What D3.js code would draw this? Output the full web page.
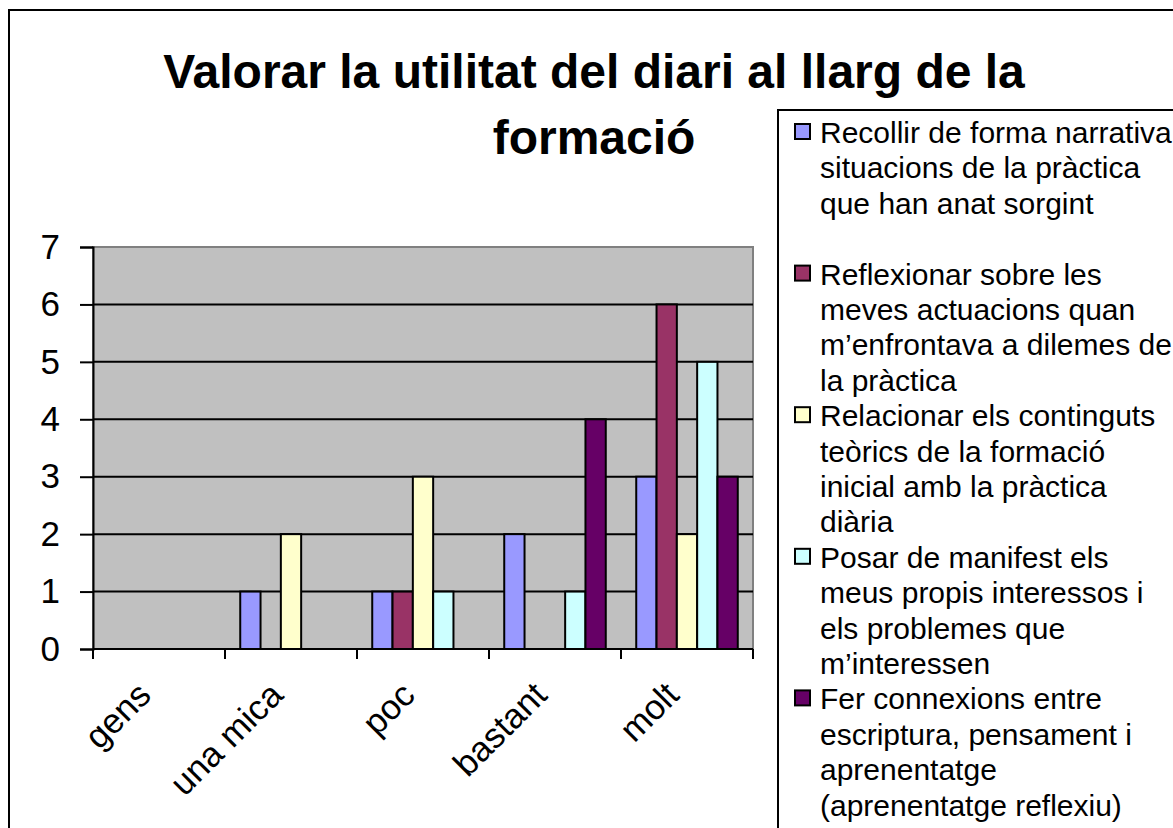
<!DOCTYPE html>
<html>
<head>
<meta charset="utf-8">
<script src="https://cdn.jsdelivr.net/npm/d3@7/dist/d3.min.js"></script>
<style>
  html, body { margin: 0; padding: 0; background: #fff; }
  svg { display: block; font-family: Arial, "Liberation Sans", sans-serif; }
</style>
</head>
<body>
<div id="chart"></div>
<script>
// chart data
var titleLines = ["Valorar la utilitat del diari al llarg de la", "formació"];
var categories = ["gens", "una mica", "poc", "bastant", "molt"];
var seriesNames = [
  ["Recollir de forma narrativa", "situacions de la pràctica", "que han anat sorgint"],
  ["Reflexionar sobre les", "meves actuacions quan", "m’enfrontava a dilemes de", "la pràctica"],
  ["Relacionar els continguts", "teòrics de la formació", "inicial amb la pràctica", "diària"],
  ["Posar de manifest els", "meus propis interessos i", "els problemes que", "m’interessen"],
  ["Fer connexions entre", "escriptura, pensament i", "aprenentatge", "(aprenentatge reflexiu)"]
];
var recollir    = [0, 1, 1, 2, 3];
var reflexionar = [0, 0, 1, 0, 6];
var relacionar  = [0, 2, 3, 0, 2];
var posar       = [0, 0, 1, 1, 5];
var connexions  = [0, 0, 0, 4, 3];
var seriesValues = [recollir, reflexionar, relacionar, posar, connexions];
var seriesColors = ["#9999FF", "#993366", "#FFFFCC", "#CCFFFF", "#660066"];
var yTicks = [0, 1, 2, 3, 4, 5, 6, 7];

var width = 1173, height = 828;
var plot = {left: 93, right: 753, top: 247, bottom: 649};

var svg = d3.select("#chart")
    .append("svg")
    .attr("width", width)
    .attr("height", height);

// outer chart frame (runs off the right and bottom edges)
svg.append("rect")
    .attr("x", 9)
    .attr("y", 10)
    .attr("width", width + 20)
    .attr("height", height + 20)
    .attr("fill", "#fff")
    .attr("stroke", "#000")
    .attr("stroke-width", 2);

// title
svg.append("g")
    .selectAll("text")
    .data(titleLines)
  .enter().append("text")
    .attr("x", 594)
    .attr("y", function(d, i) { return 88 + i * 66; })
    .attr("text-anchor", "middle")
    .attr("font-size", "48px")
    .attr("font-weight", "bold")
    .text(function(d) { return d; });

var x = d3.scaleBand()
    .domain(categories)
    .range([plot.left, plot.right]);

// excel style gap width 150%
var xs = d3.scaleBand()
    .domain(d3.range(seriesValues.length))
    .range([0, x.bandwidth()])
    .paddingOuter(0.75);

var y = d3.scaleLinear()
    .domain([0, 7])
    .range([plot.bottom, plot.top]);

// plot background
svg.append("rect")
    .attr("x", plot.left)
    .attr("y", plot.top)
    .attr("width", plot.right - plot.left)
    .attr("height", plot.bottom - plot.top)
    .attr("fill", "#C0C0C0")
    .attr("stroke", "#808080")
    .attr("stroke-width", 2);

// gridlines
svg.append("g")
    .selectAll("line")
    .data(yTicks.slice(1, -1))
  .enter().append("line")
    .attr("x1", plot.left)
    .attr("x2", plot.right)
    .attr("y1", function(d) { return y(d); })
    .attr("y2", function(d) { return y(d); })
    .attr("stroke", "#000")
    .attr("stroke-width", 2);

// bars
var barData = [];
seriesValues.forEach(function(vals, s) {
  vals.forEach(function(v, c) {
    if (v > 0) barData.push({s: s, c: categories[c], v: v});
  });
});

svg.append("g")
    .selectAll("rect")
    .data(barData)
  .enter().append("rect")
    .attr("x", function(d) { return x(d.c) + xs(d.s); })
    .attr("y", function(d) { return y(d.v); })
    .attr("width", xs.bandwidth())
    .attr("height", function(d) { return y(0) - y(d.v); })
    .attr("fill", function(d) { return seriesColors[d.s]; })
    .attr("stroke", "#000")
    .attr("stroke-width", 2);

// y axis
var yAxis = svg.append("g")
    .attr("transform", "translate(" + plot.left + ",0)")
    .call(d3.axisLeft(y).tickValues(yTicks).tickSize(13).tickPadding(20).tickFormat(d3.format("d")));
yAxis.select(".domain").attr("stroke-width", 2);
yAxis.selectAll(".tick line").attr("stroke-width", 2);
yAxis.selectAll("text")
    .attr("font-size", "35px")
    .attr("font-family", "Arial, 'Liberation Sans', sans-serif")
    .attr("fill", "#000");

// x axis: ticks between categories
var xAxis = svg.append("g")
    .attr("transform", "translate(0," + plot.bottom + ")");
xAxis.append("line")
    .attr("x1", plot.left)
    .attr("x2", plot.right)
    .attr("stroke", "#000")
    .attr("stroke-width", 2);
xAxis.selectAll(".xtick")
    .data(categories.concat([null]))
  .enter().append("line")
    .attr("class", "xtick")
    .attr("x1", function(d) { return d === null ? plot.right : x(d); })
    .attr("x2", function(d) { return d === null ? plot.right : x(d); })
    .attr("y1", 0)
    .attr("y2", 10)
    .attr("stroke", "#000")
    .attr("stroke-width", 2);
xAxis.selectAll(".xlabel")
    .data(categories)
  .enter().append("text")
    .attr("class", "xlabel")
    .attr("transform", function(d) {
      return "translate(" + (x(d) + x.bandwidth() / 2 - 6) + ",48) rotate(-45)";
    })
    .attr("text-anchor", "end")
    .attr("font-size", "35px")
    .text(function(d) { return d; });

// legend
var legend = svg.append("g");
legend.append("rect")
    .attr("x", 778)
    .attr("y", 110)
    .attr("width", 500)
    .attr("height", 800)
    .attr("fill", "#fff")
    .attr("stroke", "#000")
    .attr("stroke-width", 2);

var lineH = 35.4;
var entry = legend.selectAll(".entry")
    .data(seriesNames)
  .enter().append("g")
    .attr("class", "entry")
    .attr("transform", function(d, i) { return "translate(0," + (143 + i * 4 * lineH) + ")"; });

entry.append("rect")
    .attr("x", 795)
    .attr("y", -19)
    .attr("width", 15)
    .attr("height", 15)
    .attr("fill", function(d, i) { return seriesColors[i]; })
    .attr("stroke", "#000")
    .attr("stroke-width", 2);

entry.append("text")
    .attr("font-size", "30px")
    .selectAll("tspan")
    .data(function(d) { return d; })
  .enter().append("tspan")
    .attr("x", 820)
    .attr("y", function(d, i) { return i * lineH; })
    .text(function(d) { return d; });
</script>
</body>
</html>
